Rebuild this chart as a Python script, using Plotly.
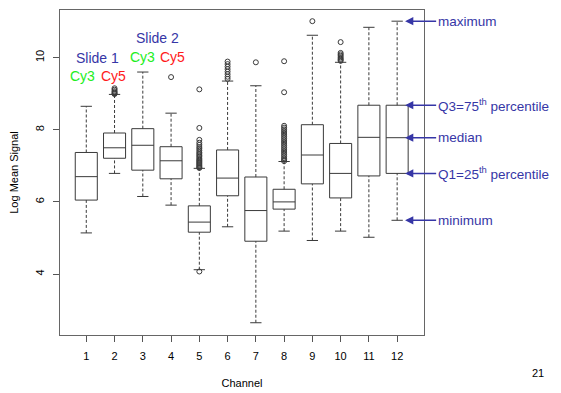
import plotly.graph_objects as go

# ---- data ----
channels = [1, 2, 3, 4, 5, 6, 7, 8, 9, 10, 11, 12]
tick_labels = ["1", "2", "3", "4", "5", "6", "7", "8", "9", "10", "11", "12"]
lower = [5.14, 6.79, 6.15, 5.91, 4.12, 5.31, 2.65, 5.19, 4.93, 5.19, 5.02, 5.49]
q1 = [6.05, 7.21, 6.88, 6.64, 5.16, 6.17, 4.91, 5.80, 6.50, 6.11, 6.72, 6.79]
median = [6.70, 7.50, 7.57, 7.14, 5.44, 6.66, 5.76, 6.00, 7.30, 6.79, 7.79, 7.78]
q3 = [7.37, 7.91, 8.03, 7.53, 5.89, 7.44, 6.69, 6.35, 8.14, 7.62, 8.68, 8.68]
upper = [8.65, 8.98, 9.60, 8.46, 6.93, 9.35, 9.22, 7.12, 10.62, 9.87, 10.84, 11.01]

out_ch2 = [9.15, 9.11, 9.07, 9.04, 9.01, 8.99]
out_ch4 = [9.46]
out_ch5 = [9.12, 8.05, 7.72, 7.64, 7.58, 7.52, 7.47, 7.42, 7.37, 7.33, 7.29, 7.25,
           7.21, 7.17, 7.14, 7.11, 7.08, 7.05, 7.02, 6.99, 6.96, 6.94, 4.07]
out_ch6 = [9.89, 9.82, 9.75, 9.68, 9.61, 9.54, 9.47, 9.41]
out_ch7 = [9.87]
out_ch8 = [9.90, 9.04, 8.11, 8.06, 8.01, 7.96, 7.91, 7.86, 7.81, 7.76, 7.71, 7.66,
           7.61, 7.56, 7.51, 7.46, 7.41, 7.36, 7.31, 7.26, 7.21, 7.17, 7.13]
out_ch9 = [11.01]
out_ch10 = [10.43, 10.13, 10.09, 10.05, 10.01, 9.97, 9.94, 9.91]
outliers = {2: out_ch2, 4: out_ch4, 5: out_ch5, 6: out_ch6, 7: out_ch7,
            8: out_ch8, 9: out_ch9, 10: out_ch10}

legend_labels = ["maximum", "Q3=75<sup>th</sup> percentile", "median",
                 "Q1=25<sup>th</sup> percentile", "minimum"]

FONT = "Liberation Sans, Arial, sans-serif"
BOXC = "#3a3a3a"
BLUE = "#3636a6"
HALF = 0.39      # half box width
CAP = 0.2        # half staple width
PAGE_PAD = 8     # default body margin of the html page

fig = go.Figure()

# dashed whiskers
wx, wy = [], []
for c, lo, a, b, hi in zip(channels, lower, q1, q3, upper):
    wx += [c, c, None, c, c, None]
    wy += [b, hi, None, lo, a, None]
fig.add_trace(go.Scatter(x=wx, y=wy, mode="lines",
                         line=dict(color=BOXC, width=1, dash="3px,2px"),
                         hoverinfo="skip", showlegend=False))
# staples
sx, sy = [], []
for c, lo, hi in zip(channels, lower, upper):
    sx += [c - CAP, c + CAP, None, c - CAP, c + CAP, None]
    sy += [hi, hi, None, lo, lo, None]
fig.add_trace(go.Scatter(x=sx, y=sy, mode="lines",
                         line=dict(color=BOXC, width=1),
                         hoverinfo="skip", showlegend=False))

# boxes
fig.add_trace(go.Box(x=channels, q1=q1, median=median, q3=q3,
                     lowerfence=q1, upperfence=q3, width=2 * HALF,
                     whiskerwidth=0, fillcolor="white",
                     line=dict(color=BOXC, width=1), boxpoints=False,
                     showlegend=False))

# outliers
ox, oy = [], []
for c, vals in outliers.items():
    ox += [c] * len(vals)
    oy += vals
fig.add_trace(go.Scatter(x=ox, y=oy, mode="markers",
                         marker=dict(symbol="circle-open", size=5,
                                     color=BOXC, line=dict(width=1)),
                         showlegend=False))

# right-side explanatory arrows (channel 12 stats)
arrow_vals = [upper[11], q3[11], median[11], q1[11], lower[11]]
for lab, v in zip(legend_labels, arrow_vals):
    fig.add_annotation(x=12.28, y=v, ax=13.38, ay=v, axref="x", ayref="y",
                       xref="x", yref="y", text=lab, showarrow=True,
                       xanchor="left", yanchor="middle",
                       arrowhead=2, arrowsize=1.1, arrowwidth=1.5,
                       arrowcolor=BLUE, standoff=0, startstandoff=0,
                       font=dict(family=FONT, size=13.5, color=BLUE))

# slide / dye labels
txt = [("Slide 1", 1.41, 9.99, BLUE), ("Cy3", 0.88, 9.49, "#22ee22"),
       ("Cy5", 1.98, 9.49, "#ff1a1a"), ("Slide 2", 3.51, 10.54, BLUE),
       ("Cy3", 2.98, 10.03, "#22ee22"), ("Cy5", 4.06, 10.03, "#ff1a1a")]
for t, x, y, col in txt:
    fig.add_annotation(x=x, y=y, xref="x", yref="y", text=t, showarrow=False,
                       font=dict(family=FONT, size=14, color=col))

# slide number
fig.add_annotation(x=1.313, y=-0.117, xref="paper", yref="paper", text="21",
                   showarrow=False, xanchor="center", yanchor="middle",
                   font=dict(family=FONT, size=11, color="black"))

fig.update_layout(
    width=561, height=393,
    margin=dict(l=60 - PAGE_PAD, r=137 + PAGE_PAD, t=10 - PAGE_PAD,
                b=58 + PAGE_PAD, autoexpand=False),
    paper_bgcolor="white", plot_bgcolor="white",
    font=dict(family=FONT, size=11, color="black"),
    showlegend=False,
)
fig.update_xaxes(range=[0.07, 12.95], tickmode="array", tickvals=channels,
                 ticktext=tick_labels, ticks="outside", ticklen=6,
                 tickcolor="#555", showline=True, linecolor="#666",
                 mirror=True, showgrid=False, zeroline=False, automargin=False,
                 title=dict(text="Channel", standoff=18,
                            font=dict(family=FONT, size=11)),
                 ticklabelstandoff=5)
fig.update_yaxes(range=[2.31, 11.32], tickvals=[4, 6, 8, 10],
                 ticks="outside", ticklen=6, tickcolor="#555", tickangle=-90,
                 showline=True, linecolor="#666", mirror=True,
                 showgrid=False, zeroline=False, automargin=False,
                 title=dict(text="Log Mean Signal", standoff=12,
                            font=dict(family=FONT, size=11)),
                 ticklabelstandoff=5)

fig.write_html("out.html")
